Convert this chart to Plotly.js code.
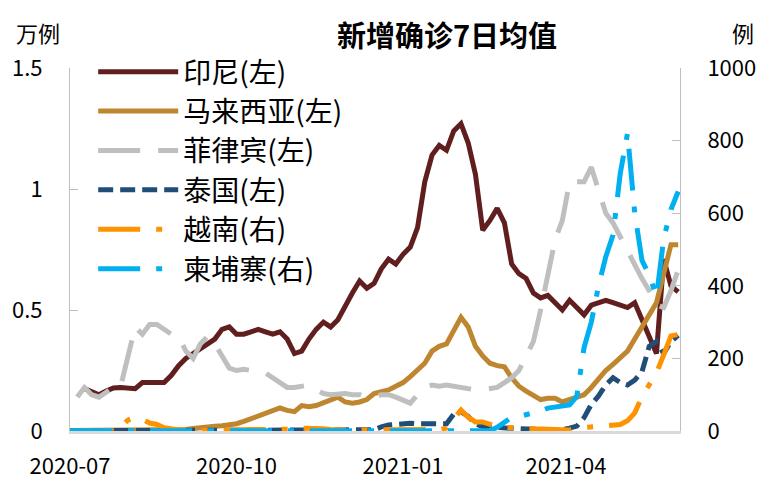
<!DOCTYPE html>
<html><head><meta charset="utf-8">
<script src="https://cdn.plot.ly/plotly-3.0.1.min.js"></script>
<style>html,body{margin:0;padding:0;background:#fff;}#chart{width:771px;height:490px;}</style>
</head><body><div id="chart"></div>
<script>
// Dates: every 4 days starting 2020-07-01
const startDate = '2020-07-01';
const stepDays = 4;

// Left axis (万例)
const indonesia = [null,null,0.175,0.16,0.15,0.165,0.178,0.18,0.18,0.175,
  0.20,0.20,0.20,0.20,0.23,0.27,0.30,0.32,0.34,0.36,
  0.38,0.42,0.43,0.40,0.40,0.41,0.42,0.41,0.40,0.41,
  0.38,0.32,0.33,0.38,0.42,0.45,0.43,0.46,0.52,0.57,
  0.62,0.59,0.61,0.67,0.71,0.69,0.73,0.76,0.84,1.03,
  1.14,1.18,1.16,1.24,1.27,1.19,1.06,0.83,0.87,0.92,
  0.86,0.69,0.65,0.63,0.57,0.55,0.56,0.53,0.50,0.54,
  0.51,0.48,0.52,0.53,0.54,0.53,0.52,0.51,0.53,0.46,
  0.38,0.32,0.71,0.60,0.575];
const malaysia = [0.002,0.002,0.002,0.002,0.002,0.002,0.002,0.002,0.002,0.002,
  0.002,0.002,0.002,0.002,0.003,0.004,0.006,0.01,0.015,0.02,
  0.02,0.022,0.025,0.03,0.04,0.05,0.06,0.07,0.085,0.095,
  0.085,0.08,0.105,0.10,0.105,0.115,0.13,0.14,0.12,0.115,
  0.12,0.13,0.155,0.16,0.17,0.185,0.20,0.225,0.25,0.28,
  0.33,0.35,0.36,0.42,0.47,0.43,0.35,0.31,0.28,0.27,
  0.265,0.22,0.185,0.165,0.145,0.13,0.135,0.135,0.12,0.13,
  0.14,0.15,0.18,0.215,0.25,0.275,0.305,0.33,0.38,0.43,
  0.47,0.53,0.65,0.77,0.77];
const philippines = [null,0.14,0.18,0.15,0.14,0.16,0.18,0.185,0.30,0.43,
  0.40,0.44,0.44,0.42,0.40,0.39,0.33,0.30,0.36,0.39,
  0.36,0.31,0.26,0.25,0.255,0.25,0.25,0.24,0.22,0.20,
  0.18,0.18,0.185,0.19,0.17,0.155,0.15,0.155,0.155,0.15,
  0.15,0.14,0.14,0.15,0.15,0.14,0.13,0.115,0.15,0.18,
  0.19,0.185,0.19,0.185,0.18,0.17,0.17,0.17,0.175,0.18,
  0.20,0.22,0.25,0.31,0.37,0.50,0.64,0.79,0.87,1.03,
  1.03,1.03,1.09,1.00,0.90,0.86,0.80,0.75,0.68,0.63,
  0.58,0.52,0.51,0.58,0.665];
const thailand = [0.001,0.001,0.001,0.001,0.001,0.001,0.001,0.001,0.001,0.001,
  0.001,0.001,0.001,0.001,0.001,0.001,0.001,0.001,0.001,0.001,
  0.001,0.001,0.001,0.001,0.001,0.001,0.001,0.001,0.001,0.001,
  0.001,0.001,0.001,0.001,0.001,0.001,0.001,0.001,0.001,0.001,
  0.001,0.003,0.005,0.017,0.025,0.027,0.03,0.032,0.03,0.03,
  0.025,0.025,0.03,0.07,0.08,0.06,0.03,0.017,0.015,0.013,
  0.012,0.012,0.01,0.008,0.007,0.006,0.005,0.005,0.005,0.012,
  0.02,0.055,0.11,0.145,0.19,0.22,0.20,0.19,0.21,0.245,
  0.35,0.37,0.32,0.37,0.395];

// Right axis (例)
const vietnam = [0,0,0,0,0,0,1,12,30,38,
  32,22,18,9,5,3,2,2,2,2,
  2,2,2,2,2,2,2,2,2,2,
  3,5,8,8,8,6,4,3,3,3,
  3,3,3,3,3,3,3,3,3,3,
  3,4,8,35,58,38,25,25,18,12,
  10,10,10,8,6,5,3,2,2,3,
  8,10,12,15,17,18,18,28,50,95,
  130,160,210,262,266];
const cambodia = [1,1,1,1,1,1,4,4,4,3,
  1,1,1,1,1,1,1,1,1,1,
  1,1,1,1,1,1,1,1,1,1,
  1,1,1,1,1,1,1,1,1,1,
  1,1,1,1,1,1,1,1,1,1,
  1,1,1,1,1,1,1,1,1,10,
  25,38,40,44,50,55,63,66,70,72,
  95,230,300,400,480,540,710,820,600,470,
  430,370,530,610,660];

const seriesNames = ['印尼(左)','马来西亚(左)','菲律宾(左)','泰国(左)','越南(右)','柬埔寨(右)'];
const seriesColors = ['#611E1E','#BF8630','#BFBFBF','#1F4E78','#FF9200','#00B0F0'];
const xTickLabelsFormat = '%Y-%m';

function buildDates(n){
  const out=[]; const d0=new Date(startDate+'T00:00:00Z');
  for(let i=0;i<n;i++){ const d=new Date(d0.getTime()+i*stepDays*86400000); out.push(d.toISOString().slice(0,10)); }
  return out;
}
const dates = buildDates(indonesia.length);

const FONT = 'Noto Sans CJK SC, Noto Sans, sans-serif';
const W = 5;
const traces = [
  {x:dates,y:indonesia,name:seriesNames[0],yaxis:'y',line:{color:seriesColors[0],width:W}},
  {x:dates,y:malaysia,name:seriesNames[1],yaxis:'y',line:{color:seriesColors[1],width:W}},
  {x:dates,y:philippines,name:seriesNames[2],yaxis:'y',line:{color:seriesColors[2],width:W,dash:'42px,18px'}},
  {x:dates,y:thailand,name:seriesNames[3],yaxis:'y',line:{color:seriesColors[3],width:W,dash:'15px,7px'}},
  {x:dates,y:vietnam,name:seriesNames[4],yaxis:'y2',line:{color:seriesColors[4],width:W,dash:'42px,16px,6px,16px'}},
  {x:dates,y:cambodia,name:seriesNames[5],yaxis:'y2',line:{color:seriesColors[5],width:W,dash:'42px,16px,6px,16px'}}
].map(t=>Object.assign({type:'scatter',mode:'lines',hoverinfo:'skip'},t));

const layout = {
  width:771,height:490,
  margin:{l:70,r:91,t:68,b:59},
  paper_bgcolor:'#fff',plot_bgcolor:'#fff',
  font:{family:FONT,size:22,color:'#000'},
  title:{text:'新增确诊7日均值',font:{family:FONT,size:29,weight:'bold',color:'#000'},x:447/771,xanchor:'center',y:1-37/490,yanchor:'middle'},
  showlegend:true,
  legend:{x:0.038,y:1.058,xanchor:'left',yanchor:'top',font:{family:FONT,size:28,color:'#000'},itemwidth:80,bgcolor:'rgba(0,0,0,0)',tracegroupgap:0},
  xaxis:{type:'date',range:['2020-07-01','2021-06-03'],tick0:'2020-07-01',dtick:'M3',tickformat:xTickLabelsFormat,
    showgrid:false,zeroline:false,showline:true,linecolor:'#D9D9D9',linewidth:3,ticks:'',ticklabelstandoff:14,
    tickfont:{family:FONT,size:22,color:'#000'}},
  yaxis:{range:[0,1.5],dtick:0.5,showgrid:false,zeroline:false,showline:true,linecolor:'#BFBFBF',linewidth:1,
    ticks:'inside',ticklen:8,tickcolor:'#BFBFBF',ticklabelstandoff:22,tickfont:{family:FONT,size:22,color:'#000'}},
  yaxis2:{range:[0,1000],dtick:200,overlaying:'y',side:'right',showgrid:false,zeroline:false,showline:true,linecolor:'#BFBFBF',linewidth:1,
    ticks:'inside',ticklen:8,tickcolor:'#BFBFBF',ticklabelstandoff:22,tickfont:{family:FONT,size:22,color:'#000'}},
  annotations:[
    {text:'万例',xref:'paper',yref:'paper',x:-32/610,y:1+36/363,xanchor:'center',yanchor:'middle',showarrow:false,font:{family:FONT,size:22,color:'#000'}},
    {text:'例',xref:'paper',yref:'paper',x:1+63/610,y:1+36/363,xanchor:'center',yanchor:'middle',showarrow:false,font:{family:FONT,size:22,color:'#000'}}
  ]
};
Plotly.newPlot('chart',traces,layout,{displayModeBar:false,staticPlot:true});
</script>
</body></html>
